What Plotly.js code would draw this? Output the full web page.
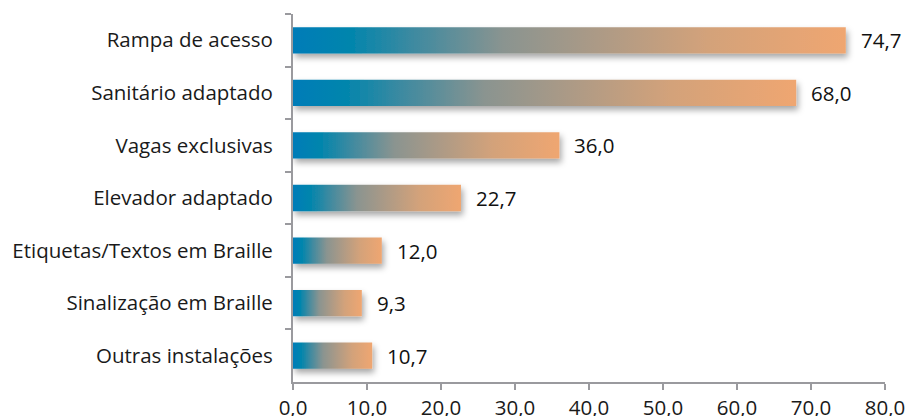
<!DOCTYPE html>
<html>
<head>
<meta charset="utf-8">
<script src="https://cdn.plot.ly/plotly-3.0.1.min.js"></script>
<style>
html,body{margin:0;padding:0;background:#fff;}
#chart{width:910px;height:416px;}
</style>
</head>
<body>
<div id="chart"></div>
<script>
const categories = ["Rampa de acesso","Sanitário adaptado","Vagas exclusivas","Elevador adaptado","Etiquetas/Textos em Braille","Sinalização em Braille","Outras instalações"];
const values = [74.7, 68.0, 36.0, 22.7, 12.0, 9.3, 10.7];
const xTicks = [0,10,20,30,40,50,60,70,80];

const FONT = "'Open Sans', sans-serif";

const trace = {
  type: "bar",
  orientation: "h",
  x: values,
  y: categories,
  marker: {color: "#5b8fa0", line: {width: 0}},
  hoverinfo: "none",
  cliponaxis: false
};

const annotations = values.map((v, i) => ({
  x: v, y: categories[i], xref: "x", yref: "y",
  text: v.toFixed(1).replace(".", ","),
  showarrow: false, xanchor: "left", xshift: 13,
  font: {family: FONT, size: 20.5, color: "#111"}
}));

const layout = {
  width: 910, height: 416,
  margin: {l: 293, r: 25, t: 14, b: 34},
  paper_bgcolor: "#fff", plot_bgcolor: "#fff",
  separators: ",.",
  showlegend: false,
  bargap: 0.5,
  font: {family: FONT, size: 16, color: "#1a1a1a"},
  xaxis: {
    range: [0, 80], tickvals: xTicks, tickformat: ".1f",
    showgrid: false, zeroline: false,
    showline: true, linecolor: "#9a9a9e", linewidth: 2,
    ticks: "outside", ticklen: 6, tickwidth: 2, tickcolor: "#9a9a9e",
    tickfont: {family: FONT, size: 20.5, color: "#1a1a1a"},
    fixedrange: true
  },
  yaxis: {
    autorange: "reversed",
    showgrid: false, zeroline: false,
    showline: true, linecolor: "#9a9a9e", linewidth: 2,
    ticks: "outside", ticklen: 6, tickwidth: 2, tickcolor: "#9a9a9e",
    tickson: "boundaries",
    ticklabelstandoff: 14,
    tickfont: {family: FONT, size: 20.5, color: "#1a1a1a"},
    fixedrange: true
  },
  annotations: annotations
};

Plotly.newPlot("chart", [trace], layout, {staticPlot: true, displayModeBar: false}).then(() => {
  const svg = document.querySelector("#chart .main-svg");
  const ns = "http://www.w3.org/2000/svg";
  let defs = svg.querySelector("defs");
  if (!defs) { defs = document.createElementNS(ns, "defs"); svg.insertBefore(defs, svg.firstChild); }
  const grad = document.createElementNS(ns, "linearGradient");
  grad.setAttribute("id", "barGrad");
  grad.setAttribute("x1", "0"); grad.setAttribute("y1", "0");
  grad.setAttribute("x2", "1"); grad.setAttribute("y2", "0");
  [[0, "#007cb8"], [0.1, "#0085ad"], [0.22, "#3f8aa0"], [0.38, "#8a9490"], [0.55, "#ac9a86"], [0.75, "#d3a27a"], [1, "#efa671"]].forEach(([o, c]) => {
    const s = document.createElementNS(ns, "stop");
    s.setAttribute("offset", o); s.setAttribute("stop-color", c);
    grad.appendChild(s);
  });
  defs.appendChild(grad);
  const filt = document.createElementNS(ns, "filter");
  filt.setAttribute("id", "barShadow");
  filt.setAttribute("x", "-10%"); filt.setAttribute("y", "-30%");
  filt.setAttribute("width", "130%"); filt.setAttribute("height", "180%");
  const ds = document.createElementNS(ns, "feDropShadow");
  ds.setAttribute("dx", "2"); ds.setAttribute("dy", "4");
  ds.setAttribute("stdDeviation", "3");
  ds.setAttribute("flood-color", "#000"); ds.setAttribute("flood-opacity", "0.35");
  filt.appendChild(ds);
  defs.appendChild(filt);
  document.querySelectorAll("#chart .bars .point path").forEach(p => {
    p.style.fill = "url(#barGrad)";
    p.style.fillOpacity = 1;
    p.setAttribute("filter", "url(#barShadow)");
  });
});
</script>
</body>
</html>
